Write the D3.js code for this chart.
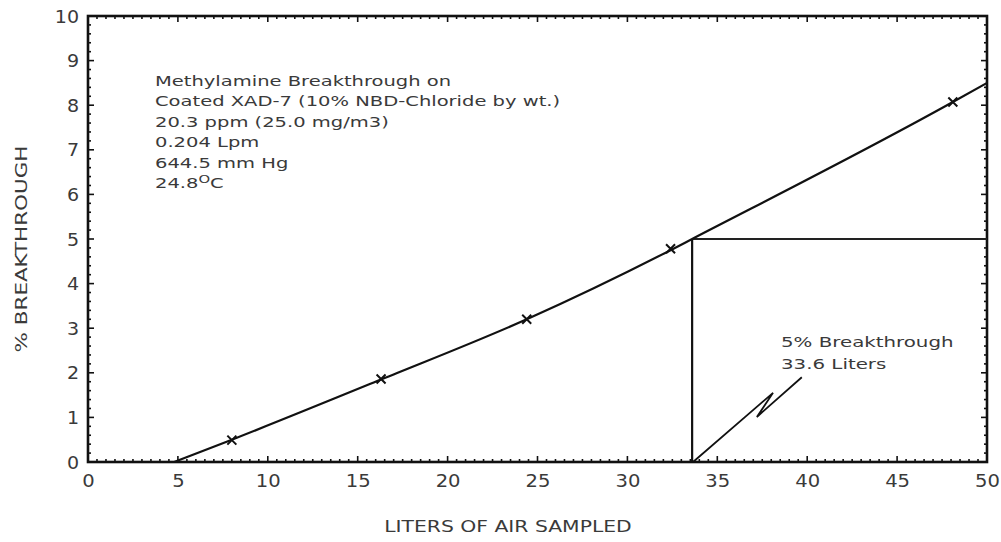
<!DOCTYPE html>
<html><head><meta charset="utf-8">
<script src="https://cdn.jsdelivr.net/npm/d3@7"></script>
<style>body{margin:0;background:#fff}svg{display:block}</style>
</head><body><svg id="c" width="1001" height="542"></svg>
<script>
// ---- data ----
const xTicks = [0,5,10,15,20,25,30,35,40,45,50];
const yTicks = [0,1,2,3,4,5,6,7,8,9,10];
const curveX = [4.8, 8, 16.3, 24.4, 32.4, 33.6, 48.1, 50];
const curveY = [0, 0.5, 1.85, 3.2, 4.75, 5.0, 8.07, 8.5];
const sampleX = [8, 16.3, 24.4, 32.4, 48.1];
const sampleY = [0.49, 1.86, 3.2, 4.78, 8.07];
const breakX = 33.6, breakY = 5;
const arrowX = [33.65, 38.1, 37.2, 39.7];
const arrowY = [0, 1.55, 1.01, 1.9];
const infoLines = ["Methylamine Breakthrough on","Coated XAD-7 (10% NBD-Chloride by wt.)","20.3 ppm (25.0 mg/m3)","0.204 Lpm","644.5 mm Hg","24.8"];
const noteLines = ["5% Breakthrough","33.6 Liters"];
const xTitle = "LITERS OF AIR SAMPLED", yTitle = "% BREAKTHROUGH";

// ---- layout ----
const svg = d3.select("#c");
const L=88, R=987, T=16, B=462;
const x = d3.scaleLinear().domain([0,50]).range([L,R]);
const y = d3.scaleLinear().domain([0,10]).range([B,T]);
const FONT = "DejaVu Sans, Verdana, sans-serif";
const TXT = "#3a3a3a";

function stretch(sel, k){
  sel.each(function(){
    const w = this.getComputedTextLength();
    d3.select(this).attr("textLength", w*k).attr("lengthAdjust","spacingAndGlyphs");
  });
}

// minor ticks
const g = svg.append("g").attr("stroke","#111");
d3.range(0,50.01,0.5).forEach(v=>{
  const len = (v%5===0)?6:3;
  g.append("line").attr("x1",x(v)).attr("x2",x(v)).attr("y1",B).attr("y2",B-len).attr("stroke-width",1.6);
  g.append("line").attr("x1",x(v)).attr("x2",x(v)).attr("y1",T).attr("y2",T+len).attr("stroke-width",1.6);
});
d3.range(0,10.01,0.2).forEach(v=>{
  const len = (Math.abs(v-Math.round(v))<1e-6)?6:3;
  g.append("line").attr("y1",y(v)).attr("y2",y(v)).attr("x1",L).attr("x2",L+len).attr("stroke-width",1.6);
  g.append("line").attr("y1",y(v)).attr("y2",y(v)).attr("x1",R).attr("x2",R-len).attr("stroke-width",1.6);
});
// frame
svg.append("rect").attr("x",L).attr("y",T).attr("width",R-L).attr("height",B-T)
  .attr("fill","none").attr("stroke","#111").attr("stroke-width",2.6);

// axes labels via d3 axes
const xa = svg.append("g").attr("transform",`translate(0,${B})`)
  .call(d3.axisBottom(x).tickValues(xTicks).tickSize(0).tickPadding(25).tickFormat(d3.format("d")));
xa.select(".domain").remove();
xa.selectAll("text").attr("font-family",FONT).attr("font-size",17).attr("fill",TXT).attr("dy",0)
  .call(stretch,1.15);
const ya = svg.append("g").attr("transform",`translate(${L},0)`)
  .call(d3.axisLeft(y).tickValues(yTicks).tickSize(0).tickPadding(9).tickFormat(d3.format("d")));
ya.select(".domain").remove();
ya.selectAll("text").attr("font-family",FONT).attr("font-size",17).attr("fill",TXT).attr("dy","0.36em")
  .call(stretch,1.12);

// titles
svg.append("text").attr("x",508).attr("y",532).attr("text-anchor","middle")
  .attr("font-family",FONT).attr("font-size",16).attr("fill",TXT).text(xTitle).call(stretch,1.27);
svg.append("text").attr("transform","translate(27,249) rotate(-90)").attr("text-anchor","middle")
  .attr("font-family",FONT).attr("font-size",16).attr("fill",TXT).text(yTitle).call(stretch,1.34);

// break lines
svg.append("line").attr("x1",x(breakX)).attr("x2",x(breakX)).attr("y1",y(0)).attr("y2",y(breakY))
  .attr("stroke","#111").attr("stroke-width",2.2);
svg.append("line").attr("x1",x(breakX)).attr("x2",x(50)).attr("y1",y(breakY)).attr("y2",y(breakY))
  .attr("stroke","#222").attr("stroke-width",2);

// curve
svg.append("path").datum(curveX.map((v,i)=>[v,curveY[i]]))
  .attr("d",d3.line().x(d=>x(d[0])).y(d=>y(d[1])).curve(d3.curveMonotoneX))
  .attr("fill","none").attr("stroke","#111").attr("stroke-width",2.2);

// sample markers
const s=4.5;
svg.append("g").selectAll("path").data(sampleX.map((v,i)=>[v,sampleY[i]])).join("path")
  .attr("d",d=>{const cx=x(d[0]),cy=y(d[1]);return `M${cx-s},${cy-s}L${cx+s},${cy+s}M${cx-s},${cy+s}L${cx+s},${cy-s}`;})
  .attr("stroke","#111").attr("stroke-width",2);

// arrow zigzag
svg.append("path").datum(arrowX.map((v,i)=>[v,arrowY[i]]))
  .attr("d",d3.line().x(d=>x(d[0])).y(d=>y(d[1])))
  .attr("fill","none").attr("stroke","#111").attr("stroke-width",1.8).attr("stroke-linejoin","miter");

// info text block
const info = svg.append("g").attr("font-family",FONT).attr("font-size",14.5).attr("fill",TXT);
infoLines.forEach((t,i)=>{
  const tx = info.append("text").attr("x",155).attr("y",86+i*20.4);
  if(i===infoLines.length-1){
    tx.append("tspan").text(t);
    tx.append("tspan").attr("dy",-5).attr("font-size",11).text("O");
    tx.append("tspan").attr("dy",5).text("C");
  } else tx.text(t);
  tx.call(stretch,1.345);
});
// note text
const note = svg.append("g").attr("font-family",FONT).attr("font-size",14.5).attr("fill",TXT);
noteLines.forEach((t,i)=>{
  note.append("text").attr("x",781).attr("y",347+i*22).text(t).call(stretch,1.365);
});
</script></body></html>
